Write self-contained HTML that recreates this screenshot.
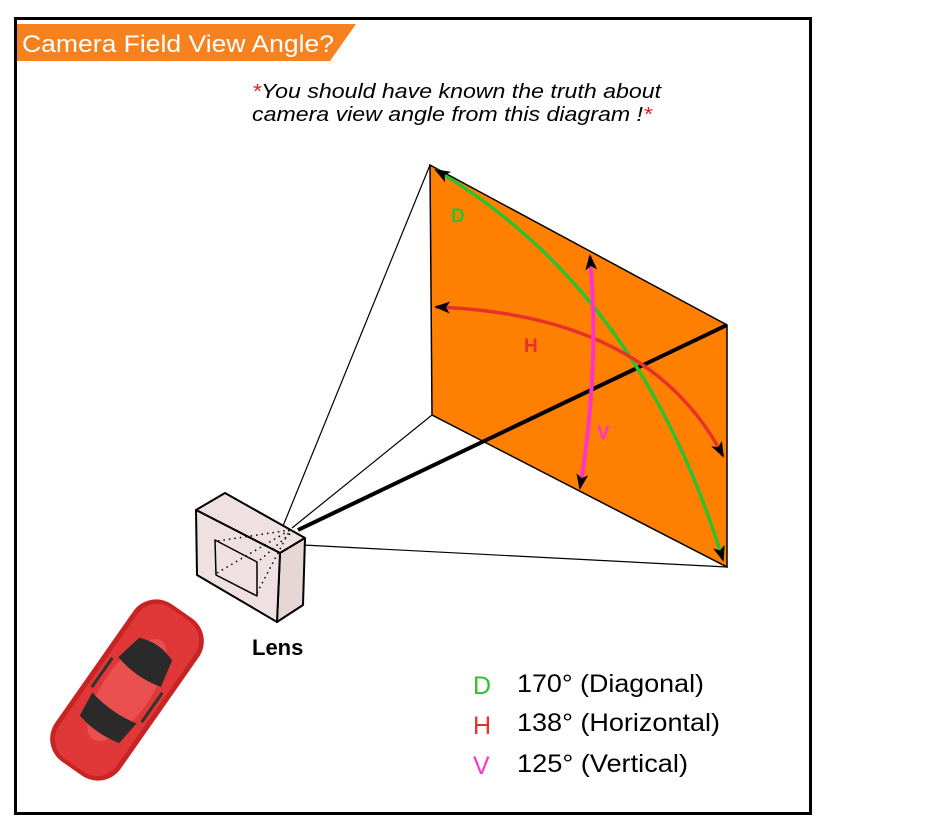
<!DOCTYPE html>
<html><head><meta charset="utf-8"><style>
body{margin:0;background:#fff;}
svg{display:block;font-family:"Liberation Sans",Arial,sans-serif;}
</style></head><body>
<svg width="950" height="834" viewBox="0 0 950 834">
<rect x="0" y="0" width="950" height="834" fill="#fff"/>
<rect x="15.5" y="18.5" width="795" height="795" fill="none" stroke="#000" stroke-width="3"/>
<polygon points="17,24 356,24 330,61 17,61" fill="#f5821f"/>
<text x="22" y="52" font-size="24" fill="#fff" textLength="312" lengthAdjust="spacingAndGlyphs">Camera Field View Angle?</text>
<text font-size="20" font-style="italic" fill="#000"><tspan x="252" y="98" textLength="409" lengthAdjust="spacingAndGlyphs"><tspan fill="#e02020">*</tspan>You should have known the truth about</tspan><tspan x="252" y="121" textLength="400" lengthAdjust="spacingAndGlyphs">camera view angle from this diagram !<tspan fill="#e02020">*</tspan></tspan></text>
<polygon points="430,165 727,325 727,567 432,415" fill="#ff8000" stroke="#000" stroke-width="1.5"/>
<line x1="283" y1="526" x2="430" y2="165" stroke="#000" stroke-width="1.2"/>
<line x1="292" y1="528" x2="432" y2="415" stroke="#000" stroke-width="1.2"/>
<line x1="303" y1="545" x2="727" y2="567" stroke="#000" stroke-width="1.2"/>
<line x1="298" y1="530" x2="727" y2="325" stroke="#000" stroke-width="4"/>
<defs>
<marker id="a" markerWidth="16" markerHeight="12" refX="14" refY="6" orient="auto-start-reverse" markerUnits="userSpaceOnUse"><path d="M0,0 L16,6 L0,12 L4,6 Z" fill="#000"/></marker>
</defs>
<path d="M436,170 Q640,290 723,560" fill="none" stroke="#2ec12e" stroke-width="3.5" marker-start="url(#a)" marker-end="url(#a)"/>
<path d="M436,307 Q650,315 723,456" fill="none" stroke="#e8312a" stroke-width="3.5" marker-start="url(#a)" marker-end="url(#a)"/>
<path d="M590,256 Q600,370 580,488" fill="none" stroke="#ff33cc" stroke-width="4" marker-start="url(#a)" marker-end="url(#a)"/>
<text x="451" y="222" font-size="19" font-weight="bold" fill="#2ec12e">D</text>
<text x="524" y="352" font-size="19" font-weight="bold" fill="#e8312a">H</text>
<text x="597" y="439" font-size="19" font-weight="bold" fill="#ff33cc">V</text>
<g stroke="#000" stroke-width="2" stroke-linejoin="round" fill="#efe1e1">
<polygon points="196,510 225,493 305,538 280,553"/>
<polygon points="280,553 305,538 303,605 277,622" fill="#e6d6d6"/>
<polygon points="196,510 280,553 277,622 197,575"/>
<polygon points="215,540 257,562 257,596 216,575" stroke-width="1.5"/>
</g>
<g stroke="#000" stroke-width="1.5" stroke-dasharray="1.5,4" fill="none">
<line x1="217" y1="573" x2="290" y2="530"/>
<line x1="218" y1="541" x2="290" y2="530"/>
<line x1="257" y1="593" x2="290" y2="530"/>
<line x1="260" y1="560" x2="292" y2="532"/>
</g>
<text x="252" y="655" font-size="22" font-weight="bold" fill="#000">Lens</text>
<g transform="translate(127,690) rotate(-55)">
<rect x="-96" y="-40" width="192" height="80" rx="28" fill="#c92424"/>
<rect x="-92" y="-35" width="184" height="70" rx="24" fill="#e03838"/>
<ellipse cx="0" cy="0" rx="60" ry="24" fill="#ea5050"/>
<path d="M22,-26 L50,-20 Q58,0 50,20 L22,26 Q15,0 22,-26 Z" fill="#2a2a2a"/>
<path d="M-48,-24 L-22,-27 Q-28,0 -22,27 L-48,24 Q-54,0 -48,-24 Z" fill="#2a2a2a"/>
<path d="M-18,-32 L18,-32 L18,-29 L-18,-29 Z" fill="#333"/>
<path d="M-18,29 L18,29 L18,32 L-18,32 Z" fill="#333"/>
</g>
<g font-size="25">
<text x="473" y="694" fill="#2ec12e">D</text><text x="517" y="692" fill="#000" textLength="187" lengthAdjust="spacingAndGlyphs">170° (Diagonal)</text>
<text x="473" y="734" fill="#e8312a">H</text><text x="517" y="731" fill="#000" textLength="203" lengthAdjust="spacingAndGlyphs">138° (Horizontal)</text>
<text x="473" y="774" fill="#ff33cc">V</text><text x="517" y="772" fill="#000" textLength="171" lengthAdjust="spacingAndGlyphs">125° (Vertical)</text>
</g>
</svg>
</body></html>
